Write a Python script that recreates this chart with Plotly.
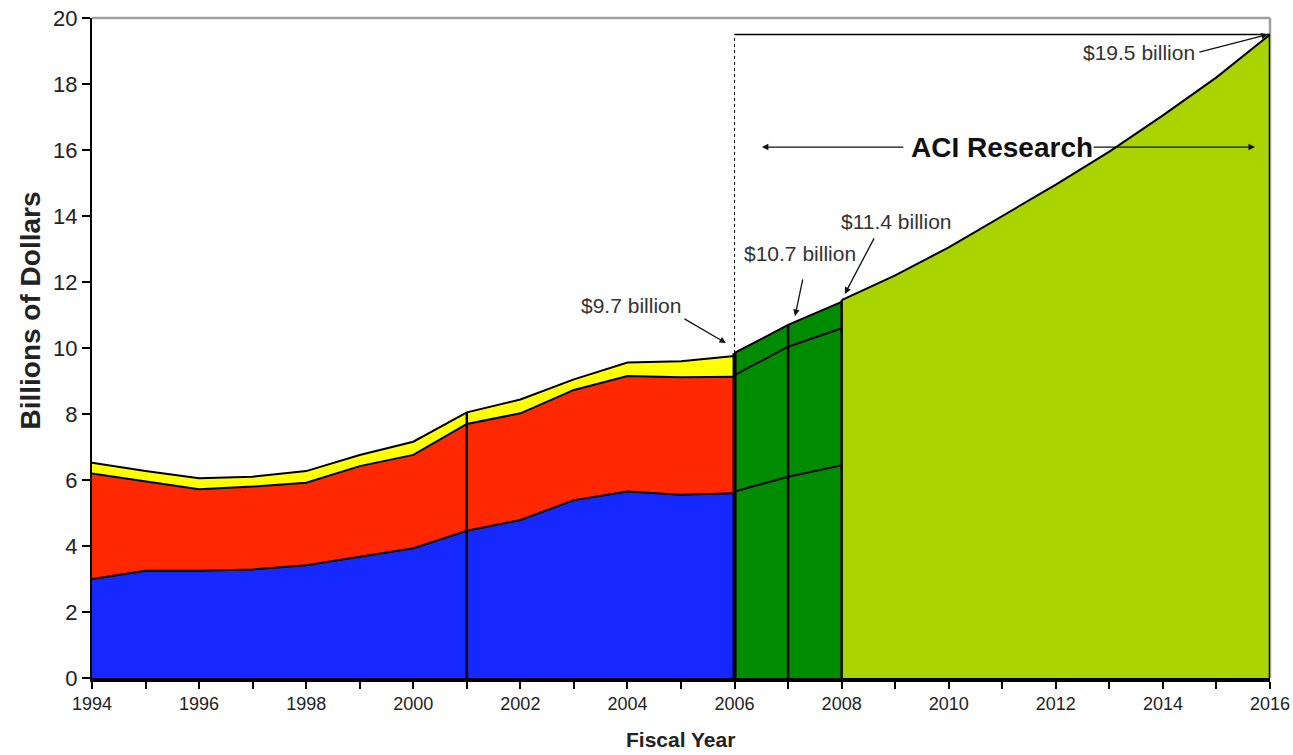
import plotly.graph_objects as go

# ---- data ----
years_hist = [1994, 1995, 1996, 1997, 1998, 1999, 2000, 2001, 2002, 2003, 2004, 2005, 2006]
blue_top = [3.0, 3.25, 3.25, 3.29, 3.42, 3.68, 3.93, 4.46, 4.79, 5.39, 5.65, 5.55, 5.6]
red_top = [6.2, 5.95, 5.72, 5.8, 5.92, 6.42, 6.76, 7.7, 8.02, 8.73, 9.15, 9.11, 9.13]
yellow_top = [6.52, 6.27, 6.05, 6.1, 6.27, 6.76, 7.16, 8.05, 8.44, 9.05, 9.56, 9.6, 9.76]

years_green = [2006, 2007, 2008]
green_low = [5.65, 6.1, 6.45]
green_mid = [9.18, 10.04, 10.6]
green_top = [9.85, 10.7, 11.4]

years_proj = [2008, 2009, 2010, 2011, 2012, 2013, 2014, 2015, 2016]
proj_top = [11.45, 12.2, 13.05, 14.0, 14.95, 15.95, 17.05, 18.2, 19.5]

x_ticks = [1994, 1996, 1998, 2000, 2002, 2004, 2006, 2008, 2010, 2012, 2014, 2016]
y_ticks = [0, 2, 4, 6, 8, 10, 12, 14, 16, 18, 20]

BLUE = "#1428FF"
RED = "#FF2800"
YELLOW = "#FFFF00"
DGREEN = "#008C00"
LGREEN = "#AAD400"
FONT = "Liberation Sans, Arial, sans-serif"

fig = go.Figure()
line = dict(color="black", width=2)

fig.add_trace(go.Scatter(x=years_hist, y=blue_top, fill="tozeroy", fillcolor=BLUE, line=line, mode="lines"))
fig.add_trace(go.Scatter(x=years_hist, y=red_top, fill="tonexty", fillcolor=RED, line=line, mode="lines"))
fig.add_trace(go.Scatter(x=years_hist, y=yellow_top, fill="tonexty", fillcolor=YELLOW, line=line, mode="lines"))

fig.add_trace(go.Scatter(x=years_green, y=green_low, fill="tozeroy", fillcolor=DGREEN, line=line, mode="lines"))
fig.add_trace(go.Scatter(x=years_green, y=green_mid, fill="tonexty", fillcolor=DGREEN, line=line, mode="lines"))
fig.add_trace(go.Scatter(x=years_green, y=green_top, fill="tonexty", fillcolor=DGREEN, line=line, mode="lines"))

fig.add_trace(go.Scatter(x=years_proj, y=proj_top, fill="tozeroy", fillcolor=LGREEN, line=line, mode="lines"))

shapes = []
def vline(xv, top, w=2.5):
    shapes.append(dict(type="line", xref="x", yref="y", x0=xv, x1=xv, y0=0, y1=top,
                       line=dict(color="black", width=w)))

vline(years_hist[7], yellow_top[7])
vline(years_green[0], green_top[0], 4)
vline(years_green[1], green_top[1])
vline(years_green[2], proj_top[0])

# grey frame top/right
shapes.append(dict(type="line", xref="paper", yref="paper", x0=0, x1=1, y0=1, y1=1,
                   line=dict(color="#A0A0A0", width=2.5)))
shapes.append(dict(type="line", xref="paper", yref="paper", x0=1, x1=1, y0=0, y1=1,
                   line=dict(color="#A0A0A0", width=2.5)))
vline(years_proj[-1], proj_top[-1], 2.5)
# dotted vertical at 2006 and top horizontal line
shapes.append(dict(type="line", xref="x", yref="y", x0=2006, x1=2006, y0=green_top[0], y1=proj_top[-1],
                   line=dict(color="black", width=1, dash="dot")))
shapes.append(dict(type="line", xref="x", yref="y", x0=2006, x1=2016.1, y0=proj_top[-1], y1=proj_top[-1],
                   line=dict(color="black", width=1.3)))

annots = []
tf = dict(family=FONT, size=21, color="#333333")
def label(text, xv, yv):
    annots.append(dict(text=text, x=xv, y=yv, xref="x", yref="y", showarrow=False, font=tf,
                       xanchor="center", yanchor="middle"))

def arrow(xv, yv, ax, ay):
    annots.append(dict(text="", x=xv, y=yv, xref="x", yref="y", ax=ax, ay=ay, showarrow=True,
                       arrowhead=2, arrowsize=1, arrowwidth=1.3, arrowcolor="#111111"))

label("$9.7 billion", 2004.07, 11.3)
arrow(2005.84, 10.15, -43, -25)
label("$10.7 billion", 2007.23, 12.85)
arrow(2007.13, 10.97, 8, -38)
label("$11.4 billion", 2009.02, 13.82)
arrow(2008.06, 11.64, 30, -57)
label("$19.5 billion", 2013.55, 18.94)
arrow(2015.96, 19.5, -70, 18)

annots.append(dict(text="<b>ACI Research</b>", x=2011.0, y=16.09, xref="x", yref="y", showarrow=False,
                   font=dict(family=FONT, size=28, color="#111111")))
annots.append(dict(text="", x=2006.51, y=16.09, xref="x", yref="y", ax=143, ay=0, showarrow=True,
                   arrowhead=2, arrowsize=1, arrowwidth=1.3, arrowcolor="#111111"))
annots.append(dict(text="", x=2015.72, y=16.09, xref="x", yref="y", ax=-163, ay=0, showarrow=True,
                   arrowhead=2, arrowsize=1, arrowwidth=1.3, arrowcolor="#111111"))

# axis titles as annotations for exact placement
annots.append(dict(text="<b>Billions of Dollars</b>", xref="paper", yref="paper",
                   x=-0.0525, y=0.557, textangle=-90, showarrow=False, xanchor="center", yanchor="middle",
                   font=dict(family=FONT, size=28, color="#222222")))
annots.append(dict(text="<b>Fiscal Year</b>", xref="paper", yref="paper",
                   x=0.4995, y=-0.093, showarrow=False, xanchor="center", yanchor="middle",
                   font=dict(family=FONT, size=21, color="#222222")))

fig.update_layout(
    width=1293, height=755,
    margin=dict(l=92, r=23, t=18, b=77),
    plot_bgcolor="white", paper_bgcolor="white",
    showlegend=False,
    shapes=shapes, annotations=annots,
    font=dict(family=FONT, color="#222222"),
)
fig.update_xaxes(
    range=[1994, 2016], tickvals=x_ticks, ticktext=[str(v) for v in x_ticks],
    ticks="outside", ticklen=7, tickwidth=1.5, tickcolor="black",
    minor=dict(dtick=1, ticks="outside", ticklen=7, tickwidth=1.5, tickcolor="black"),
    showline=True, linecolor="black", linewidth=3.5, showgrid=False, zeroline=False,
    tickfont=dict(size=18, family=FONT, color="#222222"),
    automargin=False, ticklabeloverflow="allow",
)
fig.update_yaxes(
    range=[0, 20], tickvals=y_ticks,
    ticks="outside", ticklen=8, tickwidth=1.5, tickcolor="black",
    showline=True, linecolor="black", linewidth=2, showgrid=False, zeroline=False,
    tickfont=dict(size=22, family=FONT, color="#222222"),
    automargin=False, ticklabeloverflow="allow",
)

# remove the page's default body margin so the figure fills the window exactly
fig.write_html("out.html", config={"displayModeBar": False},
               post_script="document.body.style.margin='0';document.body.style.overflow='hidden';")
